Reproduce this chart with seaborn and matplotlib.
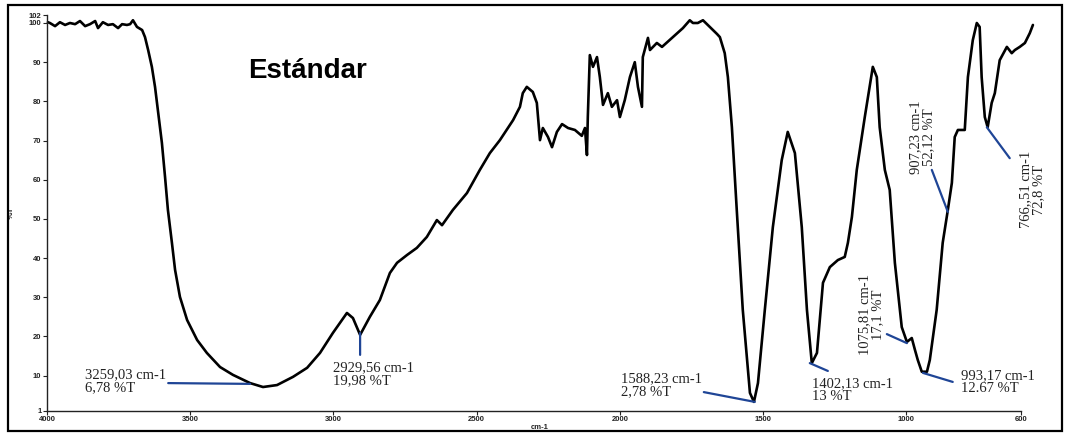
import matplotlib
matplotlib.use("Agg")
import matplotlib.pyplot as plt
from matplotlib.patches import Rectangle
import seaborn as sns
import pandas as pd

sns.set_theme(style="ticks")
plt.rcParams.update({'font.family': ['Liberation Sans', 'DejaVu Sans']})

# FTIR spectrum (cm-1, %T)
wavenumber = [
    3997, 3990, 3972, 3955, 3937, 3920, 3902, 3885, 3867, 3850, 3832, 3822,
    3805, 3787, 3770, 3752, 3738, 3721, 3710, 3700, 3686, 3668, 3658, 3647,
    3634, 3623, 3613, 3599, 3588, 3578, 3564, 3553, 3536, 3511, 3476, 3442,
    3396, 3351, 3291, 3246, 3197, 3141, 3092, 3047, 3002, 2953, 2932, 2907,
    2873, 2838, 2803, 2778, 2743, 2709, 2674, 2639, 2621, 2583, 2534, 2489,
    2454, 2419, 2373, 2349, 2339, 2325, 2304, 2290, 2279, 2269, 2251, 2237,
    2220, 2202, 2181, 2157, 2133, 2122, 2115, 2112, 2105, 2094, 2080, 2070,
    2059, 2042, 2028, 2010, 2000, 1983, 1965, 1948, 1937, 1923, 1920, 1902,
    1895, 1871, 1853, 1815, 1780, 1756, 1745, 1728, 1710, 1686, 1661, 1651,
    1634, 1623, 1609, 1592, 1571, 1546, 1532, 1518, 1494, 1466, 1435, 1414,
    1389, 1365, 1347, 1330, 1312, 1291, 1267, 1239, 1215, 1204, 1190, 1173,
    1145, 1120, 1117, 1103, 1093, 1075, 1058, 1040, 1016, 998, 981, 970,
    960, 946, 928, 918, 894, 873, 855, 841, 831, 820, 796, 785,
    768, 754, 744, 737, 726, 716, 702, 691, 674, 649, 632, 621,
    604, 586, 569, 558,
]
transmittance = [
    100.2, 100.0, 99.2, 100.2, 99.5, 100.0, 99.7, 100.5, 99.2, 99.7, 100.5, 98.7,
    100.2, 99.5, 99.7, 98.7, 99.7, 99.5, 99.7, 100.7, 99.0, 98.2, 96.4, 93.1,
    88.8, 83.7, 77.8, 69.4, 60.7, 52.3, 43.9, 37.0, 30.1, 24.2, 19.1, 15.8,
    12.2, 10.2, 8.1, 7.1, 7.6, 9.7, 12.0, 15.8, 20.9, 26.0, 24.7, 20.4,
    25.0, 29.3, 36.2, 38.8, 40.8, 42.6, 45.4, 49.7, 48.4, 52.3, 56.6, 62.5,
    66.8, 70.1, 75.2, 78.6, 82.1, 83.7, 82.4, 79.6, 70.1, 73.2, 70.9, 68.3,
    72.2, 74.2, 73.2, 72.7, 71.2, 73.2, 66.3, 76.0, 91.8, 88.8, 91.3, 86.2,
    79.1, 82.1, 78.6, 80.3, 76.0, 80.3, 86.2, 90.0, 83.7, 78.6, 91.3, 96.2,
    93.1, 94.9, 93.9, 96.4, 98.7, 100.7, 100.0, 100.0, 100.7, 99.0, 97.2, 96.4,
    92.3, 86.2, 73.4, 52.3, 26.8, 5.6, 3.3, 8.1, 26.8, 47.9, 65.0, 72.2,
    66.8, 47.9, 26.8, 13.2, 15.8, 33.7, 37.7, 39.5, 40.3, 43.9, 50.5, 62.5,
    76.0, 87.5, 88.8, 86.2, 73.4, 62.5, 57.4, 38.8, 22.4, 18.6, 19.6, 16.6,
    14.0, 11.0, 11.0, 14.0, 26.8, 43.9, 52.3, 59.2, 70.9, 72.7, 72.7, 86.2,
    95.6, 100.0, 99.0, 86.2, 76.0, 73.4, 79.6, 82.1, 90.5, 93.9, 92.3, 93.1,
    93.9, 94.9, 97.4, 99.5,
]

x_ticks = [4000, 3500, 3000, 2500, 2000, 1500, 1000, 600]
y_ticks = [1, 10, 20, 30, 40, 50, 60, 70, 80, 90, 100, 102]

# peak labels
peak_labels = [
    "3259,03 cm-1\n6,78 %T",
    "2929,56 cm-1\n19,98 %T",
    "1588,23 cm-1\n2,78 %T",
    "1402,13 cm-1\n13 %T",
    "993,17 cm-1\n12.67 %T",
    "1075,81 cm-1\n17,1 %T",
    "907,23 cm-1\n52,12 %T",
    "766,,51 cm-1\n72,8 %T",
]
# layout of the labels: text anchor, rotation, leader line (start, end)
label_pos = [(3867, 8.7), (3002, 10.4), (1996, 7.6), (1330, 6.4),
             (810, 8.4), (1124, 25.5), (946, 70.9), (560, 57.5)]
label_rot = [0, 0, 0, 0, 0, 90, 90, 90]
leader_from = [(3577, 8.1), (2907, 15.3), (1707, 5.8), (1274, 11.2),
               (838, 8.4), (1068, 20.6), (911, 62.5), (719, 73.4)]
leader_to = [(3291, 7.9), (2907, 20.9), (1529, 3.3), (1337, 13.2),
             (942, 10.7), (998, 18.3), (855, 51.8), (639, 65.5)]

df = pd.DataFrame({'cm-1': wavenumber, '%T': transmittance})

fig = plt.figure(figsize=(10.69, 4.33), dpi=100)
ax = fig.add_axes([0.044, 0.051, 0.911, 0.914])
sns.lineplot(data=df, x='cm-1', y='%T', sort=False, estimator=None,
             color='black', linewidth=1.9, ax=ax)
ax.lines[0].set_clip_on(False)

ax.set_xlim(4000, 600)
ax.set_ylim(1, 102)
ax.set_xticks(x_ticks)
ax.set_yticks(y_ticks)
ax.tick_params(axis='both', labelsize=5.5, length=3, width=0.8, pad=1,
               colors='#222222')
for lab in ax.get_xticklabels() + ax.get_yticklabels():
    lab.set_fontweight('bold')
sns.despine(ax=ax)
for sp in ['left', 'bottom']:
    ax.spines[sp].set_linewidth(1.0)
    ax.spines[sp].set_color('#222222')

ax.set_xlabel('cm-1', fontsize=5.5, fontweight='bold', labelpad=0,
              color='#222222')
ax.xaxis.set_label_coords(0.506, -0.032)
ax.set_ylabel('%T', fontsize=6, fontweight='bold', labelpad=0,
              color='#222222')
ax.yaxis.set_label_coords(-0.033, 0.5)

ax.text(0.267, 0.86, 'Estándar', transform=ax.transAxes, fontsize=20,
        fontweight='bold', ha='center', va='center', color='black')

blue = '#1f4596'
for lab, pos, rot, a, b in zip(peak_labels, label_pos, label_rot,
                               leader_from, leader_to):
    ax.annotate('', xy=b, xytext=a,
                arrowprops=dict(arrowstyle='-', color=blue, lw=1.6,
                                shrinkA=0, shrinkB=0),
                annotation_clip=False)
    if rot == 0:
        ax.text(pos[0], pos[1], lab, fontsize=10.5, ha='left', va='center',
                family=['Liberation Serif', 'DejaVu Serif'],
                color='#222222', linespacing=1.0)
    else:
        ax.text(pos[0], pos[1], lab, fontsize=10.5, ha='center', va='center',
                rotation=90, family=['Liberation Serif', 'DejaVu Serif'],
                color='#222222', linespacing=1.0)

fig.patches.append(Rectangle((0.0075, 0.005), 0.986, 0.983, fill=False,
                             edgecolor='black', linewidth=1.6,
                             transform=fig.transFigure, figure=fig))

plt.savefig('out.png', dpi=100)
plt.close()
